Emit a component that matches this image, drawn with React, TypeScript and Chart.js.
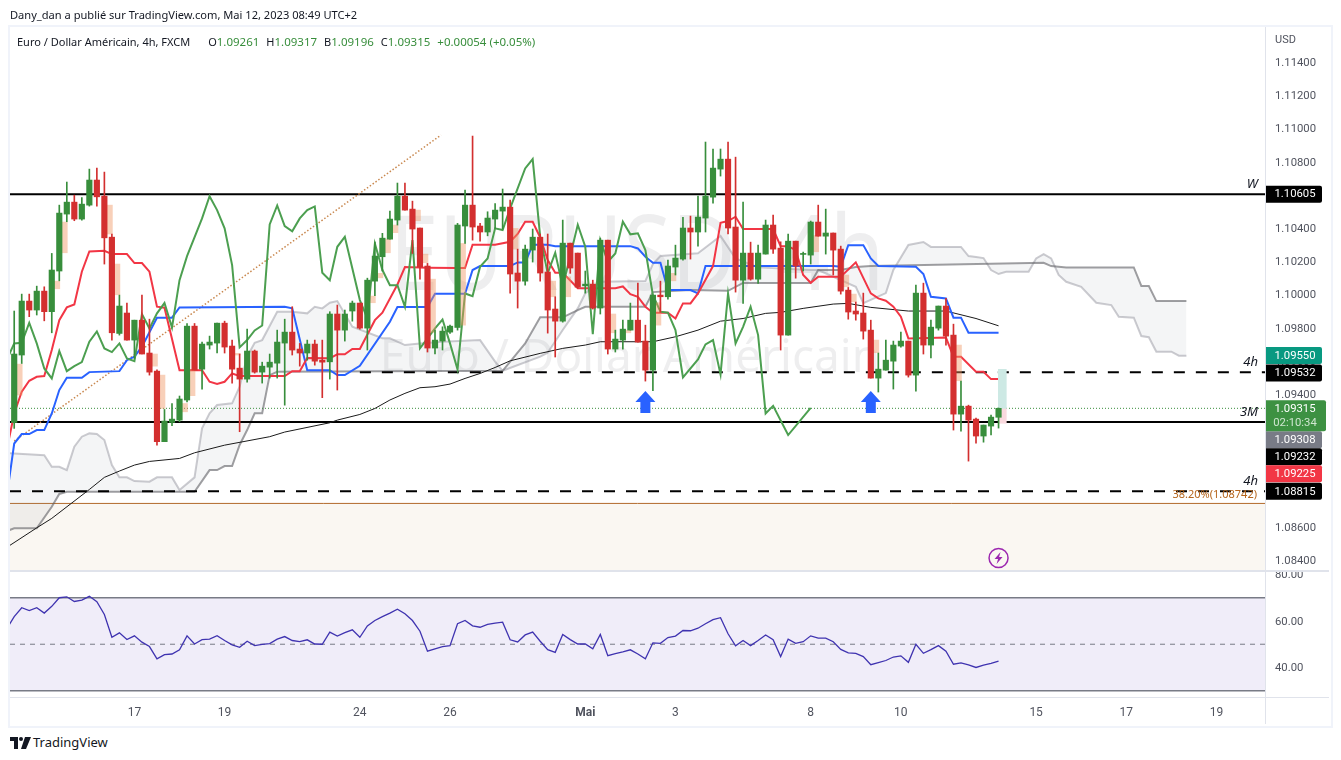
/**
 * EUR/USD 4h chart with Ichimoku lines, key levels and an RSI pane.
 */
import { useEffect, useRef } from 'react';
import { Chart, registerables } from 'chart.js';

Chart.register(...registerables);

// prices were read against the axis labels, which sit about 1px above their real level
const READ_BIAS = 0.00007;

const opens = [
  1.09223, 1.09629, 1.09954, 1.09900, 1.10014, 1.09890, 1.10135, 1.10478, 1.10550, 1.10448,
  1.10532, 1.10683, 1.10586, 1.10339, 1.09759, 1.09882, 1.09719, 1.09839, 1.09641, 1.09532,
  1.09107, 1.09223, 1.09237, 1.09358, 1.09803, 1.09544, 1.09689, 1.09701, 1.09821, 1.09683,
  1.09550, 1.09484, 1.09653, 1.09526, 1.09556, 1.09580, 1.09701, 1.09767, 1.09665, 1.09641,
  1.09695, 1.09598, 1.09588, 1.09876, 1.09779, 1.09894, 1.09942, 1.09791, 1.10074, 1.10221,
  1.10327, 1.10442, 1.10586, 1.10508, 1.10394, 1.10165, 1.09671, 1.09713, 1.09767, 1.09795,
  1.10406, 1.10532, 1.10406, 1.10370, 1.10448, 1.10496, 1.10520, 1.10123, 1.10074, 1.10261,
  1.10339, 1.10129, 1.09906, 1.09833, 1.10303, 1.10243, 1.10046, 1.10056, 1.09912, 1.10321,
  1.09665, 1.09719, 1.09779, 1.09839, 1.09713, 1.09538, 1.09990, 1.09980, 1.10159, 1.10207,
  1.10394, 1.10370, 1.10454, 1.10580, 1.10749, 1.10809, 1.10400, 1.10080, 1.10243, 1.10086,
  1.10237, 1.10412, 1.10273, 1.09749, 1.10315, 1.10235, 1.10231, 1.10430, 1.10345, 1.10364,
  1.10267, 1.10020, 1.09894, 1.09882, 1.09779, 1.09490, 1.09538, 1.09592, 1.09683, 1.09713,
  1.09508, 1.10002, 1.09689, 1.09791, 1.09924, 1.09749, 1.09273, 1.09321, 1.09243, 1.09141,
  1.09201, 1.09254,
];
const closes = [
  1.09635, 1.09954, 1.09900, 1.10014, 1.09890, 1.10141, 1.10484, 1.10550, 1.10448, 1.10538,
  1.10683, 1.10582, 1.10335, 1.09763, 1.09924, 1.09719, 1.09839, 1.09635, 1.09526, 1.09107,
  1.09231, 1.09243, 1.09364, 1.09803, 1.09538, 1.09695, 1.09707, 1.09821, 1.09677, 1.09544,
  1.09484, 1.09653, 1.09526, 1.09562, 1.09586, 1.09707, 1.09767, 1.09659, 1.09641, 1.09695,
  1.09592, 1.09586, 1.09876, 1.09779, 1.09876, 1.09942, 1.09791, 1.10080, 1.10225, 1.10333,
  1.10448, 1.10586, 1.10502, 1.10388, 1.10159, 1.09671, 1.09719, 1.09773, 1.09803, 1.10412,
  1.10532, 1.10400, 1.10370, 1.10454, 1.10502, 1.10520, 1.10117, 1.10074, 1.10267, 1.10339,
  1.10123, 1.09900, 1.09833, 1.10303, 1.10153, 1.10038, 1.10056, 1.09912, 1.10321, 1.09665,
  1.09725, 1.09785, 1.09839, 1.09707, 1.09538, 1.09990, 1.09980, 1.10165, 1.10213, 1.10394,
  1.10370, 1.10460, 1.10586, 1.10755, 1.10809, 1.10394, 1.10080, 1.10243, 1.10086, 1.10243,
  1.10412, 1.10267, 1.09749, 1.10315, 1.10165, 1.10241, 1.10430, 1.10345, 1.10364, 1.10261,
  1.10014, 1.09888, 1.09876, 1.09773, 1.09490, 1.09544, 1.09598, 1.09689, 1.09713, 1.09508,
  1.10002, 1.09689, 1.09797, 1.09924, 1.09743, 1.09273, 1.09321, 1.09237, 1.09141, 1.09207,
  1.09255, 1.09308,
];
const highs = [
  1.09894, 1.09996, 1.09996, 1.10044, 1.10040, 1.10241, 1.10532, 1.10671, 1.10592, 1.10578,
  1.10749, 1.10755, 1.10731, 1.10358, 1.09990, 1.09942, 1.09839, 1.09990, 1.09845, 1.09540,
  1.09301, 1.09337, 1.09382, 1.09819, 1.09819, 1.09707, 1.09743, 1.09821, 1.09833, 1.09719,
  1.09635, 1.09785, 1.09659, 1.09586, 1.09635, 1.09779, 1.09845, 1.09920, 1.09699, 1.09719,
  1.09719, 1.09719, 1.09890, 1.09930, 1.09900, 1.09954, 1.09942, 1.10092, 1.10309, 1.10362,
  1.10496, 1.10665, 1.10665, 1.10556, 1.10394, 1.10181, 1.09779, 1.09799, 1.09809, 1.10422,
  1.10623, 1.10948, 1.10422, 1.10492, 1.10542, 1.10629, 1.10562, 1.10267, 1.10291, 1.10388,
  1.10358, 1.10358, 1.09980, 1.10442, 1.10303, 1.10243, 1.10135, 1.10080, 1.10333, 1.10321,
  1.09779, 1.09839, 1.09942, 1.10062, 1.09809, 1.09990, 1.10074, 1.10201, 1.10291, 1.10458,
  1.10466, 1.10586, 1.10912, 1.10870, 1.10870, 1.10912, 1.10821, 1.10550, 1.10309, 1.10291,
  1.10442, 1.10472, 1.10311, 1.10358, 1.10315, 1.10249, 1.10436, 1.10532, 1.10508, 1.10364,
  1.10285, 1.10036, 1.09948, 1.10002, 1.09839, 1.09641, 1.09719, 1.09713, 1.09767, 1.09713,
  1.10050, 1.10062, 1.09839, 1.09924, 1.09970, 1.09815, 1.09472, 1.09327, 1.09249, 1.09207,
  1.09267, 1.09310,
];
const lows = [
  1.09187, 1.09578, 1.09860, 1.09870, 1.09835, 1.09763, 1.10076, 1.10432, 1.10438, 1.10442,
  1.10526, 1.10526, 1.10177, 1.09719, 1.09749, 1.09719, 1.09609, 1.09635, 1.09508, 1.09086,
  1.09107, 1.09203, 1.09227, 1.09347, 1.09538, 1.09424, 1.09665, 1.09641, 1.09641, 1.09460,
  1.09167, 1.09466, 1.09520, 1.09460, 1.09490, 1.09490, 1.09327, 1.09629, 1.09562, 1.09598,
  1.09568, 1.09372, 1.09484, 1.09418, 1.09713, 1.09833, 1.09785, 1.09659, 1.09986, 1.10135,
  1.10327, 1.10412, 1.10502, 1.10241, 1.10086, 1.09647, 1.09635, 1.09659, 1.09759, 1.09779,
  1.10301, 1.10321, 1.10315, 1.10347, 1.10392, 1.10388, 1.10002, 1.09912, 1.10050, 1.10189,
  1.10074, 1.09761, 1.09617, 1.09827, 1.10121, 1.10032, 1.10002, 1.09906, 1.09876, 1.09635,
  1.09647, 1.09665, 1.09779, 1.09707, 1.09472, 1.09414, 1.09886, 1.09966, 1.10111, 1.10201,
  1.10207, 1.10285, 1.10370, 1.10544, 1.10707, 1.10358, 1.10008, 1.09940, 1.10080, 1.10060,
  1.10237, 1.10241, 1.09659, 1.09749, 1.10092, 1.10135, 1.10177, 1.10345, 1.10237, 1.10111,
  1.09996, 1.09845, 1.09839, 1.09725, 1.09490, 1.09406, 1.09538, 1.09424, 1.09677, 1.09496,
  1.09412, 1.09635, 1.09611, 1.09779, 1.09689, 1.09177, 1.09171, 1.08990, 1.09098, 1.09104,
  1.09147, 1.09189,
];

const redBars = [
  -1, 0, 1, 2, 3, 4, 5, 6, 7, 8, 9, 10, 12, 13, 15, 16, 17, 18, 19, 20, 22, 25, 26, 27, 28, 29, 30, 36, 37, 38, 39,
  42, 43, 44, 45, 46, 48, 49, 51, 52, 55, 59, 60, 61, 64, 66, 67, 68, 69, 70, 71, 72, 73, 75, 80, 81, 82, 83, 84,
  85, 87, 88, 89, 90, 91, 93, 94, 95, 96, 97, 101, 102, 103, 104, 105, 106, 107, 110, 112, 114, 115, 116, 117, 118,
  119, 124, 125, 126, 128, 129, 130, 131,
];
const redValues = [
  1.09056, 1.09277, 1.09408, 1.09474, 1.09498, 1.09502, 1.09659, 1.09839, 1.09916, 1.09934, 1.10131, 1.10253,
  1.10257, 1.10237, 1.10237, 1.10183, 1.10183, 1.10131, 1.09920, 1.09914, 1.09538, 1.09538, 1.09468, 1.09454,
  1.09468, 1.09518, 1.09502, 1.09502, 1.09532, 1.09532, 1.09611, 1.09609, 1.09633, 1.09633, 1.09665, 1.09665,
  1.09839, 1.09884, 1.10054, 1.10159, 1.10155, 1.10153, 1.10153, 1.10293, 1.10293, 1.10311, 1.10358, 1.10432,
  1.10432, 1.10337, 1.10201, 1.10125, 1.10125, 1.10032, 1.10032, 1.10042, 1.09996, 1.09980, 1.09920, 1.09884,
  1.09884, 1.09849, 1.09940, 1.09940, 1.10000, 1.10165, 1.10426, 1.10436, 1.10462, 1.10388, 1.10388, 1.10285,
  1.10285, 1.10261, 1.10111, 1.10064, 1.10100, 1.10100, 1.10187, 1.10000, 1.09970, 1.09956, 1.09920, 1.09860,
  1.09729, 1.09735, 1.09619, 1.09619, 1.09528, 1.09528, 1.09484, 1.09484,
];

const blueBars = [
  -1, 0, 1, 2, 3, 4, 5, 6, 7, 9, 10, 14, 15, 16, 17, 19, 21, 22, 36, 37, 39, 42, 43, 44, 46, 50, 51, 55, 56, 60,
  61, 62, 66, 67, 68, 69, 71, 72, 82, 83, 84, 85, 86, 87, 90, 91, 92, 109, 110, 111, 113, 114, 115, 120, 121, 122,
  124, 125, 126, 127, 131,
];
const blueValues = [
  1.08775, 1.09096, 1.09153, 1.09153, 1.09177, 1.09177, 1.09277, 1.09418, 1.09492, 1.09492, 1.09526, 1.09532,
  1.09598, 1.09619, 1.09679, 1.09854, 1.09854, 1.09916, 1.09920, 1.09910, 1.09538, 1.09538, 1.09508, 1.09508,
  1.09564, 1.09829, 1.09918, 1.09918, 1.09998, 1.09998, 1.10141, 1.10165, 1.10165, 1.10187, 1.10187, 1.10293,
  1.10293, 1.10285, 1.10285, 1.10271, 1.10221, 1.10185, 1.10185, 1.10020, 1.10020, 1.10000, 1.10165, 1.10165,
  1.10161, 1.10291, 1.10291, 1.10211, 1.10165, 1.10161, 1.10117, 1.09980, 1.09970, 1.09854, 1.09854, 1.09763,
  1.09763,
];

const laggingBars = [
  -1, 0, 1, 2, 3, 4, 5, 6, 7, 8, 9, 10, 11, 12, 13, 14, 15, 16, 17, 18, 19, 20, 21, 22, 23, 25, 26, 27, 28, 29, 30,
  31, 32, 33, 34, 35, 36, 37, 38, 39, 40, 41, 42, 43, 44, 46, 47, 48, 49, 50, 51, 52, 53, 54, 55, 56, 57, 58, 59,
  60, 61, 62, 63, 64, 65, 66, 68, 69, 70, 71, 72, 73, 75, 76, 77, 78, 79, 80, 81, 82, 83, 84, 85, 86, 87, 88, 89,
  91, 92, 93, 94, 95, 96, 97, 98, 99, 100, 101, 103, 106,
];
const laggingValues = [
  1.09598, 1.09699, 1.09703, 1.09823, 1.09699, 1.09548, 1.09488, 1.09653, 1.09532, 1.09562, 1.09586, 1.09709,
  1.09771, 1.09669, 1.09647, 1.09699, 1.09609, 1.09592, 1.09876, 1.09789, 1.09880, 1.09942, 1.09795, 1.10080,
  1.10225, 1.10452, 1.10586, 1.10502, 1.10392, 1.10171, 1.09675, 1.09719, 1.09777, 1.09807, 1.10416, 1.10530,
  1.10406, 1.10374, 1.10452, 1.10502, 1.10524, 1.10125, 1.10080, 1.10281, 1.10341, 1.09960, 1.09849, 1.10301,
  1.10141, 1.10050, 1.10050, 1.09920, 1.10321, 1.09669, 1.09729, 1.09789, 1.09843, 1.09699, 1.09542, 1.10000,
  1.09984, 1.10161, 1.10211, 1.10392, 1.10382, 1.10512, 1.10753, 1.10809, 1.10341, 1.10121, 1.10245, 1.10040,
  1.10414, 1.10281, 1.09755, 1.10321, 1.10191, 1.10241, 1.10432, 1.10356, 1.10362, 1.10261, 1.09990, 1.09890,
  1.09884, 1.09779, 1.09494, 1.09602, 1.09693, 1.09719, 1.09512, 1.10000, 1.09699, 1.09799, 1.09920, 1.09749,
  1.09277, 1.09323, 1.09147, 1.09311,
];

const maBars = [
  -1, 3, 5, 10, 12, 14, 16, 18, 22, 24, 28, 34, 36, 42, 43, 46, 48, 50, 52, 54, 56, 58, 60, 62, 64, 66, 70, 73, 76,
  78, 85, 88, 91, 94, 97, 100, 102, 105, 109, 111, 114, 119, 124, 128, 131,
];
const maValues = [
  1.08470, 1.08588, 1.08645, 1.08819, 1.08892, 1.08930, 1.08966, 1.08988, 1.09006, 1.09040, 1.09086, 1.09137,
  1.09165, 1.09221, 1.09237, 1.09271, 1.09307, 1.09358, 1.09398, 1.09432, 1.09438, 1.09454, 1.09488, 1.09518,
  1.09554, 1.09594, 1.09639, 1.09669, 1.09689, 1.09709, 1.09709, 1.09739, 1.09779, 1.09833, 1.09849, 1.09880,
  1.09886, 1.09910, 1.09936, 1.09940, 1.09916, 1.09894, 1.09894, 1.09849, 1.09805,
];

const spanLightBars = [
  -1, 4, 5, 6, 7, 8, 9, 10, 11, 12, 13, 14, 15, 16, 18, 19, 21, 22, 24, 25, 26, 27, 29, 30, 31, 32, 33, 35, 37, 39,
  40, 41, 42, 43, 45, 49, 50, 52, 54, 57, 62, 64, 65, 70, 71, 73, 75, 76, 78, 84, 85, 86, 91, 93, 94, 96, 99, 106,
  107, 112, 113, 116, 117, 119, 121, 122, 126, 127, 128, 129, 130, 131, 132, 135, 136, 137, 138, 139, 140, 142,
  144, 146, 147, 149, 150, 151, 152, 154, 155, 156,
];
const spanLightValues = [
  1.09039, 1.09026, 1.08956, 1.08956, 1.08936, 1.09077, 1.09137, 1.09157, 1.09153, 1.09117, 1.08966, 1.08892,
  1.08892, 1.08870, 1.08866, 1.08892, 1.08892, 1.08816, 1.08892, 1.09187, 1.09278, 1.09328, 1.09338, 1.09438,
  1.09619, 1.09703, 1.09719, 1.09890, 1.09890, 1.09880, 1.09920, 1.09910, 1.09944, 1.09954, 1.09799, 1.09730,
  1.09730, 1.09689, 1.09699, 1.09709, 1.09719, 1.09589, 1.09534, 1.09619, 1.09643, 1.09780, 1.09910, 1.10001,
  1.10070, 1.10075, 1.10177, 1.10225, 1.10242, 1.10311, 1.10346, 1.10211, 1.10157, 1.10141, 1.10141, 1.10040,
  1.09942, 1.10002, 1.10141, 1.10292, 1.10310, 1.10280, 1.10280, 1.10225, 1.10219, 1.10213, 1.10141, 1.10117,
  1.10131, 1.10131, 1.10211, 1.10237, 1.10211, 1.10111, 1.10070, 1.10040, 1.09944, 1.09930, 1.09860, 1.09854,
  1.09743, 1.09736, 1.09649, 1.09649, 1.09625, 1.09625,
];

const spanDarkBars = [
  -1, 0, 3, 5, 6, 7, 24, 26, 27, 28, 29, 30, 31, 32, 33, 34, 35, 65, 68, 70, 73, 75, 76, 84, 85, 90, 95, 97, 106,
  107, 110, 112, 114, 137, 138, 140, 149, 150, 151, 152, 156,
];
const spanDarkValues = [
  1.08569, 1.08585, 1.08585, 1.08715, 1.08792, 1.08805, 1.08805, 1.08936, 1.08936, 1.08960, 1.08960, 1.09087,
  1.09177, 1.09278, 1.09278, 1.09508, 1.09528, 1.09534, 1.09699, 1.09856, 1.09856, 1.09900, 1.09920, 1.09920,
  1.10008, 1.10020, 1.10016, 1.10063, 1.10063, 1.10141, 1.10141, 1.10159, 1.10165, 1.10185, 1.10165, 1.10157,
  1.10157, 1.10045, 1.10045, 1.09954, 1.09954,
];

// unfilled gaps shown next to the candle that left them
const gapBars = [0, 5, 6, 12, 13, 18, 19, 22, 23, 29, 47, 48, 49, 50, 53, 54, 55, 59, 66, 71, 73, 79, 81, 85, 87, 106, 110, 111, 114, 125];
const gapTops = [
  1.09574, 1.10074, 1.10430, 1.10532, 1.10177, 1.09635, 1.09508, 1.09337, 1.09538, 1.09639, 1.09984, 1.10121,
  1.10327, 1.10412, 1.10502, 1.10237, 1.10086, 1.10301, 1.10392, 1.10074, 1.10100, 1.09876, 1.09779, 1.09944,
  1.10121, 1.10349, 1.10111, 1.09996, 1.09719, 1.09689,
];
const gapBottoms = [
  1.09388, 1.10028, 1.10245, 1.10358, 1.09992, 1.09562, 1.09307, 1.09287, 1.09384, 1.09629, 1.09944, 1.10094,
  1.10245, 1.10366, 1.10438, 1.10185, 1.09765, 1.09809, 1.10267, 1.09980, 1.09980, 1.09763, 1.09763, 1.09809,
  1.10076, 1.10251, 1.10040, 1.09950, 1.09643, 1.09474,
];

const trendBars = [0, 56.8];
const trendValues = [1.09111, 1.10954];

const arrowBars = [84, 114];
const arrowValues = [1.09412, 1.09412];

const alertBar = 131;
const alertValue = 1.08406;

const levelPrices = [1.10605, 1.09532, 1.09232, 1.08815];
const levelStarts = [-0.56, 46, -0.56, -0.56];
const levelTags = ['W', '4h', '3M', '4h'];

const fibPrice = 1.08742;
const lastPrice = 1.09315;
const targetPrice = 1.0955;
const stopPrice = 1.09225;

const rsiValues = [
  56.6, 61.9, 65.7, 64.5, 65.7, 63.4, 66.3, 70.0, 70.4, 68.4, 69.0, 70.6, 68.3, 62.8, 53.0, 54.9, 52.0, 53.6, 50.9,
  49.0, 43.7, 45.5, 45.8, 47.6, 53.6, 50.1, 52.0, 52.2, 53.7, 51.6, 49.7, 48.7, 51.3, 49.4, 49.9, 50.3, 52.2, 53.3,
  51.6, 51.1, 51.9, 50.1, 50.0, 55.2, 53.5, 55.0, 56.2, 53.0, 57.9, 60.2, 61.9, 63.4, 65.1, 63.1, 60.2, 55.6, 47.0,
  48.0, 49.0, 49.4, 58.8, 60.2, 57.9, 57.3, 58.5, 59.1, 59.5, 51.9, 51.0, 54.0, 55.2, 51.3, 47.7, 46.5, 54.2, 52.0,
  50.1, 50.1, 48.0, 54.2, 45.1, 46.0, 46.7, 47.6, 45.8, 43.7, 50.6, 50.4, 52.9, 53.5, 55.9, 55.8, 56.9, 58.8, 60.6,
  61.4, 54.5, 49.3, 51.6, 49.4, 51.6, 54.0, 51.9, 44.7, 52.2, 50.4, 51.1, 53.6, 52.6, 52.6, 51.1, 47.8, 46.3, 46.1,
  44.7, 41.2, 42.1, 43.0, 44.5, 45.0, 42.2, 50.0, 46.1, 47.7, 49.4, 47.0, 41.4, 42.0, 41.1, 40.0, 41.0, 41.8, 42.7,
];

const dateTickBars = [16, 28, 46, 58, 76, 88, 106, 118, 136, 148, 160];
const dateTickLabels = ['17', '19', '24', '26', 'Mai', '3', '8', '10', '15', '17', '19'];

const xMin = -0.56;
const xMax = 166.46;
const GREEN = '#388e3c';
const RED = '#d32f2f';
const FONT = '"Noto Sans", sans-serif';
const AXIS_FONT = 'Roboto, sans-serif';
const AXIS_SIZE = 11.3;
const TEXT_COLOR = '#50535e';

const readPoints = (bars: number[], values: number[]) =>
  bars.map((b, i) => ({ x: b, y: values[i] + READ_BIAS }));

const lineSet = (label: string, data: any[], color: string, width: number, order: number, extra: any = {}) => ({
  type: 'line',
  label,
  data,
  borderColor: color,
  borderWidth: width,
  pointRadius: 0,
  tension: 0,
  fill: false,
  order,
  ...extra,
});

const barSet = (label: string, data: any[], color: any, thickness: number, order: number) => ({
  type: 'bar',
  label,
  data,
  backgroundColor: color,
  barThickness: thickness,
  grouped: false,
  order,
});

// the y axes carry half a label of padding by default, which would shrink the panes
const fitAxis = (size: 'width' | 'height', value: number) => (s: any) => {
  s[size] = value;
  s.paddingTop = 0;
  s.paddingBottom = 0;
  s.paddingLeft = 0;
  s.paddingRight = 0;
};

const candleColors = closes.map((c, i) => (c >= opens[i] ? GREEN : RED));

// price tags on the axis: nudge moves a tag away from its neighbours
const tagPrices = [1.10605, 1.0955, 1.09532, 1.09308, 1.09232, 1.09225, 1.08815];
const tagColors = ['#000000', '#089981', '#000000', '#787b86', '#000000', '#f23645', '#000000'];
const tagNudges = [0, -13.8, 0.7, 30.2, 34.6, 50.4, 0];

const mainOverlay = {
  id: 'mainOverlay',
  beforeDatasetsDraw(chart: any) {
    const { ctx } = chart;
    ctx.save();
    ctx.fillStyle = 'rgba(120,123,134,0.13)';
    ctx.textBaseline = 'alphabetic';
    ctx.textAlign = 'center';
    ctx.font = `46px ${FONT}`;
    ctx.fillText('Euro / Dollar Américain', 630, 372);
    ctx.translate(637, 290);
    ctx.scale(0.85, 1);
    ctx.font = `104px ${FONT}`;
    ctx.fillText('EURUSD, 4h', 0, 0);
    ctx.restore();
  },
  afterDraw(chart: any) {
    const { ctx, scales } = chart;
    const { x, y } = scales;
    ctx.save();

    // arrows
    ctx.fillStyle = '#2962ff';
    arrowBars.forEach((bar, i) => {
      const ax = x.getPixelForValue(bar);
      const ay = y.getPixelForValue(arrowValues[i] + READ_BIAS);
      ctx.beginPath();
      ctx.moveTo(ax, ay);
      ctx.lineTo(ax + 10, ay + 11);
      ctx.lineTo(ax + 5, ay + 11);
      ctx.lineTo(ax + 5, ay + 22);
      ctx.lineTo(ax - 5, ay + 22);
      ctx.lineTo(ax - 5, ay + 11);
      ctx.lineTo(ax - 10, ay + 11);
      ctx.closePath();
      ctx.fill();
    });

    // alert icon
    const ix = x.getPixelForValue(alertBar);
    const iy = y.getPixelForValue(alertValue + READ_BIAS);
    ctx.strokeStyle = '#9c27b0';
    ctx.lineWidth = 1.5;
    ctx.beginPath();
    ctx.arc(ix, iy, 9.5, 0, Math.PI * 2);
    ctx.stroke();
    ctx.fillStyle = '#9c27b0';
    ctx.beginPath();
    ctx.moveTo(ix + 2, iy - 6);
    ctx.lineTo(ix - 4, iy + 1);
    ctx.lineTo(ix - 0.5, iy + 1);
    ctx.lineTo(ix - 2, iy + 6);
    ctx.lineTo(ix + 4, iy - 1);
    ctx.lineTo(ix + 0.5, iy - 1);
    ctx.closePath();
    ctx.fill();

    // level names
    ctx.fillStyle = '#131722';
    ctx.font = `italic 13px ${FONT}`;
    ctx.textAlign = 'right';
    ctx.textBaseline = 'middle';
    levelPrices.forEach((p, i) => {
      ctx.fillText(levelTags[i], 1258, y.getPixelForValue(p) - 10);
    });

    ctx.fillStyle = '#b5651d';
    ctx.font = `11px ${FONT}`;
    ctx.fillText(`38.20%(${fibPrice.toFixed(5)})`, 1257, y.getPixelForValue(fibPrice) - 9);

    ctx.fillStyle = TEXT_COLOR;
    ctx.textAlign = 'left';
    ctx.font = `11px ${AXIS_FONT}`;
    ctx.fillText('USD', 1275, 40);

    // axis tags
    ctx.font = `${AXIS_SIZE}px ${AXIS_FONT}`;
    ctx.textAlign = 'center';
    tagPrices.forEach((p, i) => {
      const cy = y.getPixelForValue(p) + tagNudges[i];
      ctx.fillStyle = tagColors[i];
      ctx.beginPath();
      ctx.roundRect(1265, cy - 8.5, 57, 17, [0, 2, 2, 0]);
      ctx.fill();
      ctx.fillStyle = '#ffffff';
      ctx.fillText(p.toFixed(5), 1295, cy + 0.5);
    });

    const lastY = y.getPixelForValue(lastPrice);
    ctx.fillStyle = '#3d9142';
    ctx.beginPath();
    ctx.roundRect(1265, lastY - 8, 61, 31, [0, 2, 2, 0]);
    ctx.fill();
    ctx.fillStyle = '#ffffff';
    ctx.fillText(lastPrice.toFixed(5), 1295, lastY + 0.5);
    ctx.fillStyle = '#cfe6d0';
    ctx.fillText('02:10:34', 1295, lastY + 15);

    ctx.restore();
  },
};

export default function App() {
  const mainRef = useRef<HTMLCanvasElement>(null);
  const rsiRef = useRef<HTMLCanvasElement>(null);

  useEffect(() => {
    if (!mainRef.current || !rsiRef.current) return;

    const levels = levelPrices.map((p, i) =>
      lineSet(
        `level ${levelTags[i]}`,
        [{ x: levelStarts[i], y: p }, { x: xMax, y: p }],
        '#000000',
        2,
        20,
        i % 2 === 1 ? { borderDash: [11, 11] } : {},
      ),
    );

    const main = new Chart(mainRef.current, {
      type: 'bar',
      data: {
        datasets: [
          lineSet('fib', [{ x: xMin, y: fibPrice }, { x: xMax, y: fibPrice }], '#b26a2b', 1, 30, {
            fill: 'start',
            backgroundColor: '#faf7f2',
          }),
          lineSet('span dark', readPoints(spanDarkBars, spanDarkValues), 'rgba(95,95,100,0.6)', 2, 25),
          lineSet('span light', readPoints(spanLightBars, spanLightValues), 'rgba(140,140,150,0.45)', 2, 26, {
            fill: { target: 1 },
            backgroundColor: 'rgba(120,123,134,0.08)',
          }),
          ...levels,
          lineSet('last', [{ x: xMin, y: lastPrice }, { x: xMax, y: lastPrice }], GREEN, 1, 21, {
            borderDash: [1, 2],
          }),
          lineSet('trend', readPoints(trendBars, trendValues), '#c9884f', 1.5, 19, { borderDash: [1.5, 2] }),
          lineSet('ma', readPoints(maBars, maValues), '#1a1a1a', 1, 12),
          lineSet('base', readPoints(blueBars, blueValues), '#2962ff', 2, 11),
          lineSet('conversion', readPoints(redBars, redValues), '#f23645', 2, 10),
          lineSet('lagging', readPoints(laggingBars, laggingValues), '#4c9f50', 2, 9),
          barSet(
            'gaps',
            gapBars.map((b, i) => ({ x: b + 0.7, y: [gapBottoms[i] + READ_BIAS, gapTops[i] + READ_BIAS] })),
            'rgba(240,150,100,0.45)',
            5.5,
            8,
          ),
          barSet('target', [{ x: 131.5, y: [lastPrice, targetPrice] }], '#cde9e4', 8, 7),
          barSet('stop', [{ x: 131.5, y: [stopPrice, lastPrice] }], '#f9d9de', 8, 7),
          barSet(
            'wicks',
            highs.map((h, i) => ({ x: i, y: [lows[i] + READ_BIAS, h + READ_BIAS] })),
            candleColors,
            1,
            6,
          ),
          barSet(
            'bodies',
            opens.map((o, i) => ({ x: i, y: [o + READ_BIAS, closes[i] + READ_BIAS] })),
            candleColors,
            5.5,
            5,
          ),
        ] as any,
      },
      options: {
        animation: false,
        responsive: false,
        events: [],
        layout: { padding: { left: 10, top: 27, right: 0, bottom: 0 } },
        plugins: { legend: { display: false }, tooltip: { enabled: false }, title: { display: false } },
        scales: {
          x: { type: 'linear', display: false, offset: false, min: xMin, max: xMax },
          y: {
            position: 'right',
            min: 1.08335,
            max: 1.11612,
            grid: { display: false, drawTicks: false },
            border: { display: false },
            afterFit: fitAxis('width', 76),
            ticks: {
              stepSize: 0.002,
              includeBounds: false,
              padding: 10,
              labelOffset: 1,
              color: TEXT_COLOR,
              font: { family: 'Roboto', size: AXIS_SIZE },
              callback: (v: any) => (Number(v) > 1.115 ? null : Number(v).toFixed(5)),
            },
          },
        },
      },
      plugins: [mainOverlay],
    } as any);

    const bandColor = '#787b86';
    const rsi = new Chart(rsiRef.current, {
      type: 'line',
      data: {
        datasets: [
          lineSet('lower', [{ x: xMin, y: 30 }, { x: xMax, y: 30 }], bandColor, 1.5, 5),
          lineSet('upper', [{ x: xMin, y: 70 }, { x: xMax, y: 70 }], bandColor, 1.5, 6, {
            fill: { target: 0 },
            backgroundColor: '#f0edf9',
          }),
          lineSet('mid', [{ x: xMin, y: 50 }, { x: xMax, y: 50 }], bandColor, 1, 4, { borderDash: [5, 5] }),
          lineSet('rsi', rsiValues.map((v, i) => ({ x: i - 1, y: v })), '#3f33b0', 1.3, 1),
        ] as any,
      },
      options: {
        animation: false,
        responsive: false,
        events: [],
        layout: { padding: { left: 10, top: 0, right: 0, bottom: 0 } },
        plugins: { legend: { display: false }, tooltip: { enabled: false } },
        scales: {
          x: {
            type: 'linear',
            offset: false,
            min: xMin,
            max: xMax,
            grid: { display: false, drawTicks: false },
            border: { display: false },
            afterBuildTicks: (s: any) => {
              s.ticks = dateTickBars.map(v => ({ value: v }));
            },
            afterFit: fitAxis('height', 29),
            ticks: {
              autoSkip: false,
              maxRotation: 0,
              padding: 9,
              color: TEXT_COLOR,
              font: (ctx: any) => ({
                family: 'Roboto',
                size: 12,
                weight: ctx.tick && ctx.tick.label === 'Mai' ? 'bold' : 'normal',
              }),
              callback: (v: any) => dateTickLabels[dateTickBars.indexOf(v)],
            },
          },
          y: {
            position: 'right',
            min: 27.3,
            max: 81.5,
            grid: { display: false, drawTicks: false },
            border: { display: false },
            afterFit: fitAxis('width', 76),
            ticks: {
              stepSize: 20,
              includeBounds: false,
              padding: 10,
              labelOffset: 1,
              color: TEXT_COLOR,
              font: { family: 'Roboto', size: AXIS_SIZE },
              callback: (v: any) => Number(v).toFixed(2),
            },
          },
        },
      },
    } as any);

    return () => {
      main.destroy();
      rsi.destroy();
    };
  }, []);

  const valueStyle = { color: GREEN, fontSize: 11.5 };
  const gap = { marginLeft: 7 };
  const rule = { position: 'absolute', background: '#e0e3eb' } as const;

  return (
    <div style={{ position: 'absolute', left: 0, top: 0, width: 1341, height: 760, background: '#fff', overflow: 'hidden', fontFamily: FONT, color: '#131722' }}>
      <canvas ref={mainRef} width={1341} height={571} style={{ position: 'absolute', left: 0, top: 0, display: 'block' }} />
      <canvas ref={rsiRef} width={1341} height={155} style={{ position: 'absolute', left: 0, top: 571, display: 'block' }} />

      <div style={{ position: 'absolute', left: 8, top: 25, width: 1321, height: 699, border: '2px solid #f0f3fa', pointerEvents: 'none' }} />
      <div style={{ ...rule, left: 1265, top: 27, width: 1, height: 697 }} />
      <div style={{ ...rule, left: 10, top: 570, width: 1319, height: 2 }} />
      <div style={{ ...rule, left: 10, top: 697, width: 1319, height: 1 }} />

      <div style={{ position: 'absolute', left: 10, top: 7, fontSize: 11.1, whiteSpace: 'nowrap' }}>
        Dany_dan a publié sur TradingView.com, Mai 12, 2023 08:49 UTC+2
      </div>
      <div style={{ position: 'absolute', left: 17, top: 34, fontSize: 11, whiteSpace: 'pre' }}>
        Euro / Dollar Américain, 4h, FXCM
        <span style={{ marginLeft: 18 }}>O</span>
        <span style={valueStyle}>1.09261</span>
        <span style={gap}>H</span>
        <span style={valueStyle}>1.09317</span>
        <span style={gap}>B</span>
        <span style={valueStyle}>1.09196</span>
        <span style={gap}>C</span>
        <span style={valueStyle}>1.09315</span>
        <span style={{ ...valueStyle, ...gap }}>+0.00054 (+0.05%)</span>
      </div>

      <svg width="21" height="12" viewBox="0 0 21 12" style={{ position: 'absolute', left: 10, top: 737 }}>
        <path d="M0 0h8v12H4V4H0z" fill="#131722" />
        <circle cx="11" cy="2" r="2" fill="#131722" />
        <path d="M15 0h6l-5 12h-5z" fill="#131722" />
      </svg>
      <div style={{ position: 'absolute', left: 33, top: 733, fontSize: 13, whiteSpace: 'nowrap' }}>TradingView</div>
    </div>
  );
}
